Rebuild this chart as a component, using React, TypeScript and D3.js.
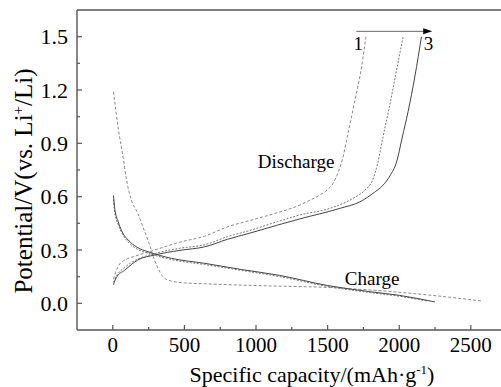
import React, { useEffect, useRef } from "react";
import * as d3 from "d3";

// [capacity (mAh/g), potential (V)]
const discharge1: [number, number][] = [
  [5, 0.135], [20, 0.175], [49, 0.222], [100, 0.25], [154, 0.265], [293, 0.3],
  [468, 0.344], [642, 0.378], [800, 0.43], [957, 0.466], [1150, 0.51], [1306, 0.553],
  [1352, 0.571], [1445, 0.609], [1500, 0.64], [1538, 0.675], [1575, 0.74], [1602, 0.806],
  [1641, 0.95], [1690, 1.14], [1737, 1.33], [1767, 1.5],
];
const discharge2: [number, number][] = [
  [5, 0.118], [30, 0.16], [80, 0.2], [165, 0.245], [293, 0.28], [468, 0.31],
  [642, 0.33], [800, 0.375], [957, 0.41], [1150, 0.46], [1306, 0.497], [1515, 0.534],
  [1669, 0.587], [1760, 0.637], [1815, 0.695], [1850, 0.79], [1885, 0.93], [1930, 1.1],
  [1981, 1.31], [2027, 1.5],
];
const discharge3: [number, number][] = [
  [5, 0.105], [25, 0.145], [84, 0.187], [175, 0.244], [293, 0.272], [468, 0.298],
  [642, 0.318], [800, 0.36], [957, 0.395], [1150, 0.44], [1306, 0.475], [1585, 0.534],
  [1725, 0.571], [1817, 0.619], [1887, 0.665], [1934, 0.716], [1983, 0.8], [2020, 0.93],
  [2062, 1.08], [2110, 1.28], [2155, 1.5],
];
const charge1: [number, number][] = [
  [5, 1.19], [37, 0.99], [72, 0.82], [96, 0.693], [130, 0.58], [175, 0.506],
  [210, 0.43], [245, 0.356], [291, 0.244], [330, 0.175], [350, 0.15], [410, 0.125],
  [500, 0.115], [642, 0.11], [1000, 0.1], [1536, 0.088], [1800, 0.075], [2100, 0.055],
  [2400, 0.03], [2585, 0.012],
];
const charge2: [number, number][] = [
  [5, 0.585], [14, 0.51], [37, 0.445], [70, 0.385], [107, 0.345], [170, 0.305],
  [247, 0.282], [410, 0.246], [642, 0.218], [900, 0.185], [1166, 0.15], [1500, 0.095],
  [1800, 0.06], [2000, 0.04], [2200, 0.012],
];
const charge3: [number, number][] = [
  [5, 0.607], [14, 0.53], [37, 0.46], [70, 0.395], [107, 0.356], [170, 0.315],
  [247, 0.29], [410, 0.253], [642, 0.225], [900, 0.19], [1166, 0.157], [1500, 0.1],
  [1800, 0.065], [2000, 0.045], [2249, 0.008],
];

const xTicks = [0, 500, 1000, 1500, 2000, 2500];
const xMinor = [250, 750, 1250, 1750, 2250];
const yTicks = [0, 0.3, 0.6, 0.9, 1.2, 1.5];
const yMinor = [0.15, 0.45, 0.75, 1.05, 1.35];

export default function App() {
  const ref = useRef<SVGSVGElement>(null);

  useEffect(() => {
    const svg = d3.select(ref.current);
    svg.selectAll("*").remove();

    const left = 77;
    const top = 10;
    const bottom = 330;
    const x = d3.scaleLinear().domain([-250, 2700]).range([left, 499.5]);
    const y = d3.scaleLinear().domain([-0.15, 1.65]).range([bottom, top]);
    const font = "Times New Roman, Liberation Serif, serif";
    const axisColor = "#555";

    // curves
    const line = d3
      .line<[number, number]>()
      .x((d) => x(d[0]))
      .y((d) => y(d[1]))
      .curve(d3.curveMonotoneX);

    const series = [
      { data: discharge1, color: "#8a8a8a", dash: "3,2" },
      { data: charge1, color: "#8a8a8a", dash: "3,2" },
      { data: discharge2, color: "#777", dash: "2,1.5" },
      { data: charge2, color: "#777", dash: "2,1.5" },
      { data: discharge3, color: "#444", dash: null },
      { data: charge3, color: "#444", dash: null },
    ];
    series.forEach((s) => {
      svg
        .append("path")
        .attr("d", line(s.data))
        .attr("fill", "none")
        .attr("stroke", s.color)
        .attr("stroke-width", 1)
        .attr("stroke-dasharray", s.dash);
    });

    // frame
    const frame = svg.append("g").attr("stroke", axisColor).attr("stroke-width", 1.4);
    frame.append("line").attr("x1", left).attr("x2", left).attr("y1", top).attr("y2", bottom);
    frame.append("line").attr("x1", left).attr("x2", 501).attr("y1", top).attr("y2", top);
    frame.append("line").attr("x1", left).attr("x2", 501).attr("y1", bottom).attr("y2", bottom);

    // ticks (inward)
    const tk = svg.append("g").attr("stroke", axisColor).attr("stroke-width", 1.2);
    xTicks.forEach((t) =>
      tk.append("line").attr("x1", x(t)).attr("x2", x(t)).attr("y1", bottom).attr("y2", bottom - 5)
    );
    xMinor.forEach((t) =>
      tk.append("line").attr("x1", x(t)).attr("x2", x(t)).attr("y1", bottom).attr("y2", bottom - 3)
    );
    yTicks.forEach((t) =>
      tk.append("line").attr("x1", left).attr("x2", left + 5).attr("y1", y(t)).attr("y2", y(t))
    );
    yMinor.forEach((t) =>
      tk.append("line").attr("x1", left).attr("x2", left + 3).attr("y1", y(t)).attr("y2", y(t))
    );

    // tick labels
    svg
      .append("g")
      .selectAll("text")
      .data(xTicks)
      .enter()
      .append("text")
      .attr("x", (d) => x(d))
      .attr("y", 352)
      .attr("text-anchor", "middle")
      .attr("font-family", font)
      .attr("font-size", 21)
      .attr("fill", "#000")
      .text((d) => d);

    svg
      .append("g")
      .selectAll("text")
      .data(yTicks)
      .enter()
      .append("text")
      .attr("x", 68)
      .attr("y", (d) => y(d))
      .attr("dy", "0.35em")
      .attr("text-anchor", "end")
      .attr("font-family", font)
      .attr("font-size", 22)
      .attr("fill", "#000")
      .text((d) => d.toFixed(1));

    // axis titles
    const xt = svg
      .append("text")
      .attr("x", 312)
      .attr("y", 382)
      .attr("text-anchor", "middle")
      .attr("font-family", font)
      .attr("font-size", 22);
    xt.append("tspan").text("Specific capacity/(mAh·g");
    xt.append("tspan").attr("dy", -8).attr("font-size", 13).text("-1");
    xt.append("tspan").attr("dy", 8).text(")");

    const yt = svg
      .append("text")
      .attr("transform", "translate(32,181) rotate(-90)")
      .attr("text-anchor", "middle")
      .attr("font-family", font)
      .attr("font-size", 25);
    yt.append("tspan").text("Potential/V(vs. Li");
    yt.append("tspan").attr("dy", -9).attr("font-size", 15).text("+");
    yt.append("tspan").attr("dy", 9).text("/Li)");

    // annotations
    const ann = svg.append("g").attr("font-family", font).attr("fill", "#000");
    ann.append("text").attr("x", x(1012)).attr("y", y(0.76)).attr("font-size", 19).text("Discharge");
    ann.append("text").attr("x", x(1620)).attr("y", y(0.103)).attr("font-size", 19).text("Charge");
    ann.append("text").attr("x", x(1714)).attr("y", 50).attr("text-anchor", "middle").attr("font-size", 19).text("1");
    ann.append("text").attr("x", x(2205)).attr("y", 50).attr("text-anchor", "middle").attr("font-size", 19).text("3");

    const ay = y(1.53);
    const ax1 = x(1700);
    const ax2 = x(2230);
    svg
      .append("line")
      .attr("x1", ax1)
      .attr("x2", ax2 - 6)
      .attr("y1", ay)
      .attr("y2", ay)
      .attr("stroke", "#666")
      .attr("stroke-width", 1);
    svg
      .append("path")
      .attr("d", `M${ax2},${ay} L${ax2 - 9},${ay - 3} L${ax2 - 9},${ay + 3} Z`)
      .attr("fill", "#000");
  }, []);

  return (
    <svg
      ref={ref}
      width={501}
      height={387}
      style={{ position: "absolute", left: 0, top: 0, background: "#fff" }}
    />
  );
}
